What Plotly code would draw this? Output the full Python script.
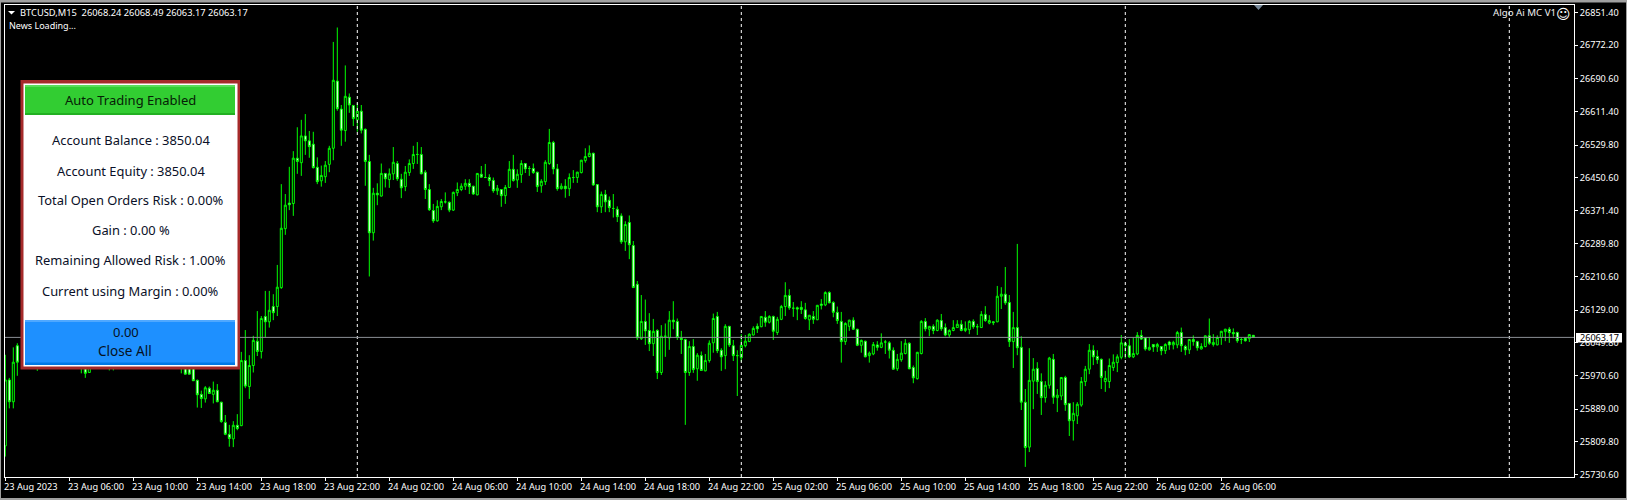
import plotly.graph_objects as go

N = None
opens = [25800,25960,25907,26043,N,N,N,N,26000,N,
N,N,N,N,N,N,N,N,N,26005,
26010,25978,N,N,N,N,26000,26000,N,N,
N,N,N,N,N,N,N,N,N,N,
N,N,N,N,26000,26000,26000,26000,25959,25925,
25914,25940,25925,25935,25906,25857,25828,25817,25850,25849,
26007,25944,25995,26054,26029,26114,26101,26138,26138,26184,
26327,26389,26388,26498,26487,26552,26540,26532,26476,26443,
26453,26483,26522,26685,26617,26565,26646,26626,26591,26612,
26568,26490,26317,26413,26406,26461,26446,26460,26485,26447,
26429,26463,26485,26507,26507,26464,26422,26371,26346,26380,
26392,26391,26372,26414,26422,26430,26437,26430,26409,26459,
26451,26451,26444,26419,26422,26407,26427,26471,26445,26458,
26485,26473,26473,26464,26431,26441,26485,26536,26472,26424,
26430,26424,26451,26451,26463,26492,26502,26510,26434,26380,
26410,26396,26376,26374,26358,26295,26342,26286,26192,26060,
26102,26080,26048,26080,25978,26066,26062,26105,26102,26061,
26058,25978,26041,25987,26019,25982,26007,26050,26114,26032,
26019,26090,26043,26019,26014,26043,26053,26069,26090,26089,
26112,26100,26114,26075,26107,26138,26165,26134,26135,26136,
26130,26106,26114,26106,26144,26142,26172,26148,26124,26102,
26053,26090,26105,26083,26044,26054,26019,26023,26045,26039,
26052,26050,26032,25987,26009,26024,26049,25990,25963,26024,
26102,26083,26090,26080,26104,26087,26069,26080,26087,26095,
26080,26082,26102,26089,26087,26119,26098,26101,26101,26163,
26168,26148,26053,26087,26039,25906,25797,25957,25988,25956,
25917,25947,26010,25917,25921,25966,25903,25861,25873,25899,
25956,25986,26032,26017,26010,25956,25956,25990,26002,26015,
26049,26043,26016,26023,26068,26062,26033,26046,26040,26041,
26031,26052,26045,26045,26075,26041,26033,26058,26053,26035,
26041,26067,26046,26045,26063,26077,26083,26075,26075,26058,
26061,26060,26068.24]
highs = [26021,25965,26039,26049,N,N,N,N,26010,N,
N,N,N,N,N,N,N,N,N,26015,
26015,26000,N,N,N,N,26010,26010,N,N,
N,N,N,N,N,N,N,N,N,N,
N,N,N,N,26010,26005,26005,26005,25961,25934,
25945,25944,25956,25950,25907,25875,25851,25860,25877,26028,
26081,26020,26067,26127,26115,26176,26176,26168,26239,26435,
26411,26477,26515,26573,26591,26605,26564,26562,26500,26480,
26491,26528,26780,26815,26627,26723,26655,26627,26631,26627,
26570,26506,26426,26437,26485,26462,26473,26525,26491,26460,
26479,26495,26528,26537,26525,26469,26435,26387,26396,26399,
26415,26393,26417,26439,26437,26447,26447,26431,26462,26479,
26484,26459,26451,26433,26423,26433,26491,26506,26471,26493,
26486,26479,26485,26465,26447,26493,26569,26540,26484,26437,
26447,26461,26469,26465,26494,26522,26529,26511,26435,26417,
26421,26405,26411,26381,26364,26345,26359,26297,26200,26166,
26155,26122,26108,26083,26093,26097,26127,26151,26109,26079,
26060,26054,26059,26025,26029,26023,26056,26121,26125,26037,
26095,26091,26057,26032,26071,26069,26073,26090,26097,26115,
26127,26117,26116,26113,26142,26197,26180,26149,26138,26151,
26147,26117,26127,26142,26156,26175,26175,26151,26138,26125,
26100,26106,26112,26084,26058,26055,26029,26052,26054,26073,
26057,26054,26039,26023,26054,26059,26051,25995,26028,26105,
26110,26091,26095,26107,26120,26097,26083,26105,26105,26105,
26102,26105,26107,26096,26127,26139,26117,26102,26188,26185,
26234,26166,26125,26290,26066,25938,26037,26013,26003,25976,
25957,26016,26023,25938,25967,25970,25904,25906,25906,25967,
25994,26047,26044,26032,26012,25982,26012,26022,26022,26069,
26053,26059,26063,26076,26081,26063,26063,26047,26050,26042,
26049,26055,26055,26079,26087,26045,26059,26068,26055,26049,
26068,26109,26071,26068,26079,26084,26088,26085,26077,26062,
26063,26071,26068.49]
lows = [25774,25891,25891,25970,N,N,N,N,25982,N,
N,N,N,N,N,N,N,N,N,25976,
25965,25978,N,N,N,N,25983,25983,N,N,
N,N,N,N,N,N,N,N,N,N,
N,N,N,N,25976,25974,25974,25958,25893,25892,
25905,25926,25903,25906,25856,25826,25798,25797,25838,25848,
25940,25914,25978,26018,26012,26063,26087,26105,26115,26181,
26312,26372,26358,26460,26455,26506,26499,26473,26435,26429,
26438,26464,26493,26613,26528,26538,26608,26576,26562,26558,
26431,26211,26298,26384,26405,26427,26426,26445,26443,26401,
26418,26455,26472,26484,26459,26399,26370,26341,26344,26372,
26388,26367,26370,26406,26418,26421,26411,26409,26408,26451,
26450,26430,26414,26409,26380,26387,26426,26441,26426,26438,
26462,26455,26460,26416,26414,26433,26482,26459,26419,26422,
26402,26406,26438,26438,26461,26487,26500,26431,26367,26365,
26367,26367,26354,26343,26290,26273,26253,26183,26057,26057,
26045,26030,26018,25962,25972,26016,26033,26083,26057,26023,
25851,25970,25977,25958,25982,25981,26002,26026,26025,25982,
25986,26040,26006,25921,26004,26039,26052,26068,26074,26088,
26089,26097,26057,26069,26105,26115,26130,26113,26105,26120,
26106,26081,26096,26105,26131,26139,26146,26112,26096,26002,
26045,26079,26081,26042,26026,26015,26002,26020,26031,26037,
26023,26012,25985,25982,26004,26022,25986,25952,25961,26022,
26078,26066,26071,26078,26079,26066,26063,26078,26086,26078,
26076,26071,26084,26069,26086,26101,26095,26093,26100,26132,
26142,26040,25989,26020,25887,25749,25785,25889,25926,25875,
25905,25939,25902,25882,25911,25885,25824,25813,25853,25895,
25945,25974,25996,25999,25938,25931,25940,25982,25979,26010,
26012,26013,26013,26020,26057,26031,26031,26028,26028,26020,
26023,26033,26034,26037,26028,26020,26023,26043,26031,26034,
26039,26045,26041,26044,26045,26054,26050,26061,26050,26047,
26053,26052,26063.17]
closes = [25960,25907,26003,26003,N,N,N,N,26005,N,
N,N,N,N,N,N,N,N,N,26010,
25976,25995,N,N,N,N,26005,26005,N,N,
N,N,N,N,N,N,N,N,N,N,
N,N,N,N,26005,25974,25974,25958,25924,25915,
25941,25927,25935,25907,25859,25828,25818,25850,25842,26007,
25945,25995,26056,26029,26109,26101,26129,26123,26185,26328,
26384,26385,26498,26490,26552,26540,26526,26475,26441,26456,
26481,26522,26687,26618,26566,26648,26627,26594,26612,26566,
26490,26317,26413,26409,26461,26448,26460,26488,26448,26426,
26464,26485,26507,26507,26460,26422,26373,26346,26381,26393,
26392,26372,26415,26422,26430,26437,26429,26411,26461,26452,
26451,26444,26419,26425,26407,26427,26471,26444,26459,26485,
26472,26473,26463,26429,26442,26488,26536,26472,26424,26430,
26424,26451,26451,26464,26493,26502,26510,26433,26380,26410,
26392,26378,26376,26356,26295,26337,26288,26184,26062,26102,
26079,26048,26078,25978,26066,26066,26105,26101,26063,26058,
25978,26041,25985,26020,25983,26007,26049,26109,26031,26016,
26090,26045,26019,26019,26044,26054,26071,26085,26084,26114,
26100,26114,26078,26107,26138,26165,26135,26134,26132,26131,
26109,26117,26107,26141,26141,26172,26147,26124,26104,26053,
26097,26105,26083,26044,26056,26016,26025,26046,26039,26050,
26052,26032,25986,26010,26025,26049,25987,25965,26027,26102,
26084,26090,26080,26105,26084,26069,26080,26087,26095,26080,
26085,26102,26089,26089,26119,26104,26104,26099,26163,26168,
26147,26053,26087,26038,25906,25796,25959,25986,25956,25917,
25947,26013,25918,25923,25966,25900,25861,25879,25901,25956,
25986,26032,26016,26009,25966,25964,25995,26003,26016,26050,
26043,26016,26024,26068,26059,26035,26039,26040,26046,26031,
26046,26045,26051,26075,26043,26033,26058,26053,26038,26041,
26067,26049,26051,26063,26078,26083,26075,26072,26055,26058,
26055,26070,26063.17]

y_ticks = [26851.40,26772.20,26690.60,26611.40,26529.80,26450.60,26371.40,26289.80,
           26210.60,26129.00,26049.80,25970.60,25889.00,25809.80,25730.60]
x_labels = ["23 Aug 2023","23 Aug 06:00","23 Aug 10:00","23 Aug 14:00","23 Aug 18:00","23 Aug 22:00",
            "24 Aug 02:00","24 Aug 06:00","24 Aug 10:00","24 Aug 14:00","24 Aug 18:00","24 Aug 22:00",
            "25 Aug 02:00","25 Aug 06:00","25 Aug 10:00","25 Aug 14:00","25 Aug 18:00","25 Aug 22:00",
            "26 Aug 02:00","26 Aug 06:00"]
x_label_bars = [16*k for k in range(len(x_labels))]
separator_bars = [88,184,280,376]
last_price = 26063.17
panel_lines = ["Account Balance : 3850.04","Account Equity : 3850.04","Total Open Orders Risk : 0.00%",
               "Gain : 0.00 %","Remaining Allowed Risk : 1.00%","Current using Margin : 0.00%"]
panel_line_y = [140,170.5,200.5,230,260,290.5]

n = len(opens)

W, H = 1627, 500
L, T, R, B = 5, 5, 1574, 477
def px(x): return (x - L) / (R - L)
def py(y): return (B - y) / (B - T)

def rect(x0, y0, x1, y1, color):
    return dict(type="rect", xref="paper", yref="paper", x0=px(x0), x1=px(x1), y0=py(y0), y1=py(y1),
                fillcolor=color, line_width=0, layer="above")

UI = "Noto Sans"
def text(x, y, s, size=10, color="white", anchor="left", family=UI):
    return dict(xref="paper", yref="paper", x=px(x), y=py(y), text=s, showarrow=False, xanchor=anchor,
                yanchor="middle", font=dict(family=family, size=size, color=color), borderpad=0, borderwidth=0)

fig = go.Figure(go.Candlestick(
    x=list(range(n)), open=opens, high=highs, low=lows, close=closes,
    whiskerwidth=0,
    increasing=dict(line=dict(color="#00FF00", width=1), fillcolor="#000000"),
    decreasing=dict(line=dict(color="#00FF00", width=1), fillcolor="#FFFFFF"),
    hoverinfo="skip", showlegend=False))

shapes = []
for b in separator_bars:
    shapes.append(dict(type="line", xref="x", yref="paper", x0=b, x1=b, y0=0, y1=1,
                       line=dict(color="white", width=1, dash="3px,3px"), layer="above"))
shapes.append(dict(type="line", xref="paper", yref="y", x0=0, x1=1, y0=last_price, y1=last_price,
                   line=dict(color="#8a8f94", width=1), layer="above"))
# window edge
shapes += [rect(0, 0, W, 2.5, "#a0a0a0"), rect(0, 0, 1, H, "#a0a0a0"), rect(0, 498, W, H, "#a0a0a0"),
           rect(W-1, 0, W, H, "#a0a0a0")]
# panel
shapes += [rect(20.5, 80, 240, 369.5, "#A52A2A"), rect(23.5, 83.5, 237.5, 366.5, "#FFFFFF"),
           rect(25, 85, 235, 115, "#32CD32"), rect(25, 85, 235, 87, "#5ADB5A"), rect(25, 113, 235, 115, "#22B022"),
           rect(25, 320, 235, 365, "#1E90FF"), rect(25, 320, 235, 322, "#4FA8FF"), rect(25, 362.5, 235, 365, "#0078E6"),
           rect(1576, 333, 1622, 342.5, "#FFFFFF")]
# header triangle and shift marker
shapes.append(dict(type="path", xref="paper", yref="paper", line_width=0, fillcolor="white", layer="above",
                   path=f"M{px(8)},{py(11)} L{px(15)},{py(11)} L{px(11.5)},{py(14.5)} Z"))
shapes.append(dict(type="path", xref="paper", yref="paper", line_width=0, fillcolor="#778899", layer="above",
                   path=f"M{px(1254)},{py(5)} L{px(1263)},{py(5)} L{px(1258.5)},{py(10)} Z"))

ann = [text(20, 12.5, "BTCUSD,M15  26068.24 26068.49 26063.17 26063.17", size=9.3),
       text(9, 25.5, "News Loading...", size=9),
       text(1492.5, 13, "Algo Ai MC V1", size=9.7, color="#f0f0f0"),
       text(1563.5, 14, "☺", size=14, anchor="center", family="DejaVu Sans"),
       text(130, 100.5, "Auto Trading Enabled", size=13, color="#062006", anchor="center"),
       text(125.5, 332, "0.00", size=13, color="#06121f", anchor="center"),
       text(124.7, 350.5, "Close All", size=13.6, color="#06121f", anchor="center"),
       text(1599, 337.5, f"{last_price:.2f}", size=9.1, color="black", anchor="center")]
for s, y in zip(panel_lines, panel_line_y):
    ann.append(text(130.5, y, s, size=12.9, color="#0a1028", anchor="center"))
for b, s in zip(x_label_bars, x_labels):
    ann.append(dict(xref="x", yref="paper", x=b, y=py(486.5), text=s, showarrow=False, xanchor="left",
                    xshift=-3, yanchor="middle", font=dict(family=UI, size=9.2, color="white")))

fig.update_layout(
    width=W, height=H, autosize=False, margin=dict(l=L, r=W-R, t=T, b=H-B),
    paper_bgcolor="black", plot_bgcolor="black", showlegend=False, boxgap=0.5, boxgroupgap=0,
    shapes=shapes, annotations=ann,
    font=dict(family=UI, size=9.1, color="white"),
    xaxis=dict(range=[-0.075, 392.175], rangeslider=dict(visible=False), showgrid=False, zeroline=False,
               showline=True, mirror=True, linecolor="white", linewidth=1,
               tickmode="array", tickvals=x_label_bars, ticktext=[""]*len(x_labels),
               ticks="outside", ticklen=3, tickcolor="white", tickwidth=1),
    yaxis=dict(range=[25724.5, 26869.6], side="right", showgrid=False, zeroline=False,
               showline=True, mirror=True, linecolor="white", linewidth=1,
               tickmode="array", tickvals=y_ticks, ticktext=[f"{v:.2f}" for v in y_ticks],
               ticks="outside", ticklen=3, tickcolor="white", tickwidth=1,
               tickfont=dict(family=UI, size=9.1, color="white")),
)
fig.write_html("out.html", config=dict(displayModeBar=False),
               post_script="document.body.style.margin='0';document.body.style.overflow='hidden';")
